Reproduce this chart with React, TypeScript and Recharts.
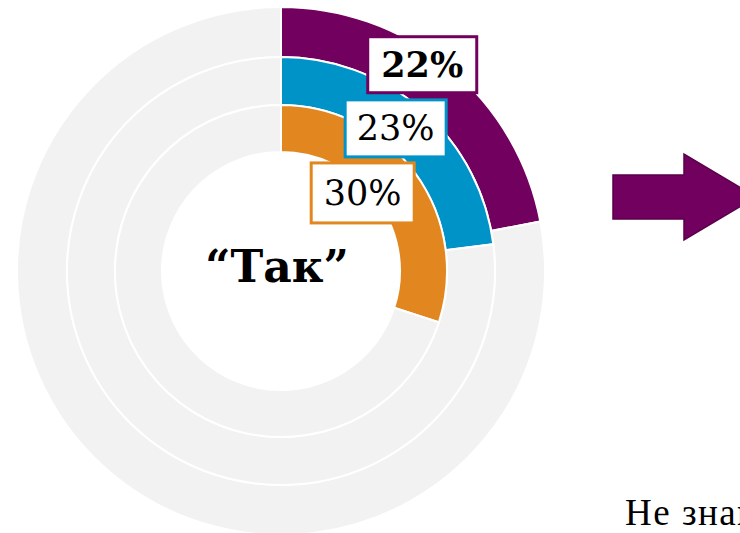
import React from 'react'
import { PieChart, Pie, Cell } from 'recharts'

// share of "Так" answers per ring (outer -> inner)
const rings = ['outer', 'middle', 'inner']
const values = [22, 23, 30]
const colors = ['#72005E', '#0093C8', '#E2871F']
const labelBold = [true, false, false]
const centerLabel = '“Так”'
const sideText = 'Не знаю'

const REST = '#F2F2F2'
const CX = 281
const CY = 271
const radii = [
  [214, 264],
  [166, 214],
  [119, 166],
]
// label box placement: radius from centre and angle (deg, clockwise from 12 o'clock)
const labelPos = [
  { r: 250, a: 34.4 },
  { r: 183, a: 38.8 },
  { r: 113, a: 46.3 },
]
const boxW = [109, 101, 103]
const boxH = [56, 57, 60]

const serif = 'Georgia, "DejaVu Serif", serif'

function makeLabel(i: number) {
  return (props: any) => {
    if (props.index !== 0) return null
    const { cx, cy } = props
    const rad = (labelPos[i].a * Math.PI) / 180
    const x = cx + labelPos[i].r * Math.sin(rad)
    const y = cy - labelPos[i].r * Math.cos(rad)
    const w = boxW[i]
    const h = boxH[i]
    return (
      <g key={`lbl-${i}`}>
        <rect
          x={x - w / 2}
          y={y - h / 2}
          width={w}
          height={h}
          fill="#fff"
          stroke={colors[i]}
          strokeWidth={3}
        />
        <text
          x={x}
          y={y + 12}
          textAnchor="middle"
          fontFamily={serif}
          fontSize={35}
          fontWeight={labelBold[i] ? 700 : 400}
          fill="#000"
        >
          {values[i]}%
        </text>
      </g>
    )
  }
}

export default function App() {
  return (
    <div
      style={{
        position: 'absolute',
        left: 0,
        top: 0,
        width: 740,
        height: 533,
        overflow: 'hidden',
        background: '#fff',
      }}
    >
      <PieChart width={740} height={533} margin={{ top: 0, right: 0, bottom: 0, left: 0 }}>
        {rings.map((name, i) => (
          <Pie
            key={name}
            data={[
              { name: 'yes', value: values[i] },
              { name: 'rest', value: 100 - values[i] },
            ]}
            dataKey="value"
            cx={CX}
            cy={CY}
            innerRadius={radii[i][0]}
            outerRadius={radii[i][1]}
            startAngle={90}
            endAngle={-270}
            stroke="#fff"
            strokeWidth={2}
            label={makeLabel(i)}
            labelLine={false}
            isAnimationActive={false}
          >
            <Cell fill={colors[i]} />
            <Cell fill={REST} />
          </Pie>
        ))}
        <text
          x={CX - 4}
          y={282}
          textAnchor="middle"
          fontFamily={serif}
          fontSize={44}
          fontWeight={700}
          fill="#000"
        >
          {centerLabel}
        </text>
      </PieChart>
      <svg
        width={740}
        height={533}
        style={{ position: 'absolute', left: 0, top: 0, pointerEvents: 'none' }}
      >
        <polygon
          points="613,175 684,175 684,154 756,197 684,240 684,219 613,219"
          fill="#72005E"
          stroke="#5A004A"
          strokeWidth={1.5}
        />
      </svg>
      <div
        style={{
          position: 'absolute',
          left: 625,
          top: 492,
          fontFamily: '"Liberation Serif", serif',
          fontSize: 37,
          lineHeight: '42px',
          letterSpacing: 1.5,
          whiteSpace: 'nowrap',
          color: '#000',
        }}
      >
        {sideText}
      </div>
      <div
        style={{
          position: 'absolute',
          left: 6,
          top: 526,
          fontFamily: '"Liberation Serif", serif',
          fontSize: 30,
          lineHeight: '34px',
          whiteSpace: 'nowrap',
          color: '#000',
        }}
      >
        О
      </div>
    </div>
  )
}
